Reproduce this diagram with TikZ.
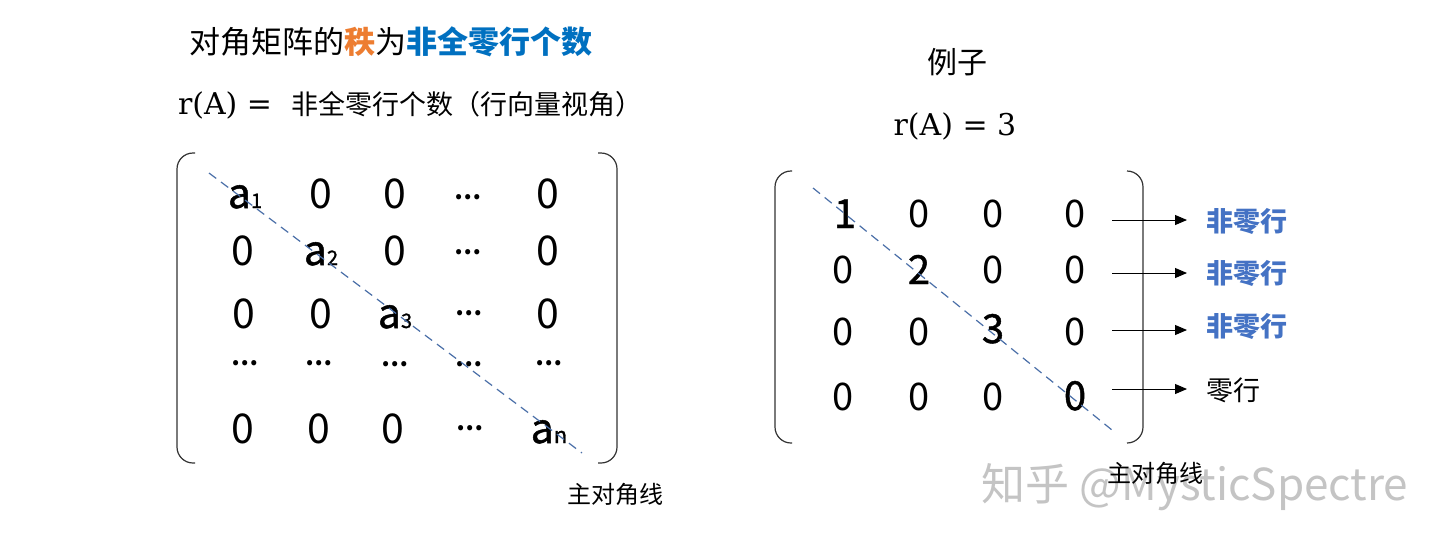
\documentclass[tikz,border=0pt]{standalone}
\usepackage{fontspec}
\usetikzlibrary{arrows.meta}
\newfontfamily\cjk{Noto Sans CJK SC}
\newfontfamily\cjkfb{Noto Sans CJK SC}[FakeBold=1.2]
\newfontfamily\serifm{DejaVu Serif}
\definecolor{orng}{HTML}{ED7D31}
\definecolor{tblue}{HTML}{0070C0}
\definecolor{lblue}{HTML}{4472C4}
\definecolor{dblue}{HTML}{4A6FA8}
\definecolor{wmgray}{HTML}{C4C4C4}
\newcommand\fsz[1]{\fontsize{#1}{#1}\selectfont}
\begin{document}
\begin{tikzpicture}[x=1pt,y=-1pt,
  every node/.style={inner sep=0pt,outer sep=0pt},
  lz/.style={anchor=base,font=\cjk\fsz{41}},
  la/.style={anchor=base,font=\cjkfb\fsz{41}},
  ldots/.style={anchor=center,font=\cjk\bfseries\fsz{24}},
  rz/.style={anchor=base,font=\cjk\fsz{38}},
  rd/.style={anchor=base,font=\cjkfb\fsz{40}},
  bracket/.style={draw=black!80,line width=1.2pt,rounded corners=16pt},
  diagline/.style={draw=dblue,line width=1.2pt,dash pattern=on 9pt off 6pt},
  arr/.style={draw=black,line width=1pt,-{Triangle[length=12pt,width=10pt]},shorten >=19pt},
  nzlab/.style={anchor=west,font=\cjk\bfseries\fsz{27},text=lblue},
  zlab/.style={anchor=west,font=\cjk\fsz{27}},
  diaglab/.style={anchor=center,font=\cjk\fsz{24}}
]
\useasboundingbox[fill=white] (0,0) rectangle (1440,550);
% titles
\node[anchor=west,font=\cjk\fsz{31}] (title) at (189,42)
  {对角矩阵的{\bfseries\color{orng}秩}为{\bfseries\color{tblue}非全零行个数}};
\node[anchor=west,font=\serifm\fsz{30}] (rA) at (178,105) {r(A) =};
\node[anchor=west,font=\cjk\fsz{27}] (def) at (291,104) {非全零行个数（行向量视角）};
\node[anchor=center,font=\cjk\fsz{30}] (ex) at (957,62) {例子};
\node[anchor=center,font=\serifm\fsz{30}] (rA3) at (955,126) {r(A) = 3};

% left matrix brackets
\draw[bracket] (195,153) -- (177,153) -- (177,463) -- (195,463);
\draw[bracket] (598,153) -- (617,153) -- (617,463) -- (598,463);
% left matrix entries
\node[la] (a1) at (245,208) {a{\fsz{20}1}};
\node[lz] (L12) at (321,208) {0};
\node[lz] (L13) at (395,208) {0};
\node[ldots] (L14) at (468,197) {…};
\node[lz] (L15) at (548,208) {0};
\node[lz] (L21) at (243,265) {0};
\node[la] (a2) at (321,265) {a{\fsz{20}2}};
\node[lz] (L23) at (395,265) {0};
\node[ldots] (L24) at (468,252) {…};
\node[lz] (L25) at (548,265) {0};
\node[lz] (L31) at (244,328) {0};
\node[lz] (L32) at (321,328) {0};
\node[la] (a3) at (395,328) {a{\fsz{20}3}};
\node[ldots] (L34) at (469,313) {…};
\node[lz] (L35) at (548,328) {0};
\node[ldots] (L41) at (245,363) {…};
\node[ldots] (L42) at (319,363) {…};
\node[ldots] (L43) at (395,364) {…};
\node[ldots] (L44) at (469,364) {…};
\node[ldots] (L45) at (549,363) {…};
\node[lz] (L51) at (243,443) {0};
\node[lz] (L52) at (319,443) {0};
\node[lz] (L53) at (393,443) {0};
\node[ldots] (L54) at (470,428) {…};
\node[la] (an) at (549,443) {a{\fsz{22}n}};
\coordinate (ldA) at (209,173);
\coordinate (ldB) at (582,453);
\draw[diagline] (ldA) -- (ldB);
\node[diaglab] (ldl) at (615,494) {主对角线};

% right matrix brackets
\draw[bracket] (792,171) -- (775,171) -- (775,443) -- (792,443);
\draw[bracket] (1127,171) -- (1143,171) -- (1143,443) -- (1127,443);
% right matrix entries
\node[rd] (R11) at (845,228) {1};
\node[rz] (R12) at (919,227) {0};
\node[rz] (R13) at (993,227) {0};
\node[rz] (R14) at (1075,227) {0};
\node[rz] (R21) at (843,283) {0};
\node[rd] (R22) at (919,284) {2};
\node[rz] (R23) at (993,283) {0};
\node[rz] (R24) at (1075,283) {0};
\node[rz] (R31) at (843,345) {0};
\node[rz] (R32) at (919,345) {0};
\node[rd] (R33) at (993,343) {3};
\node[rz] (R34) at (1075,345) {0};
\node[rz] (R41) at (843,410) {0};
\node[rz] (R42) at (919,410) {0};
\node[rz] (R43) at (993,410) {0};
\node[rd] (R44) at (1075,410) {0};
\coordinate (rdA) at (813,188);
\coordinate (rdB) at (1112,430);
\draw[diagline] (rdA) -- (rdB);

% row labels and arrows
\node[nzlab] (t1) at (1206,221) {非零行};
\node[nzlab] (t2) at (1206,273) {非零行};
\node[nzlab] (t3) at (1206,326) {非零行};
\node[zlab] (t4) at (1206,390) {零行};
\coordinate (s1) at (1112,220);
\coordinate (s2) at (1112,273);
\coordinate (s3) at (1112,330);
\coordinate (s4) at (1112,389);
\draw[arr] (s1) -- (s1 -| t1.west);
\draw[arr] (s2) -- (s2 -| t2.west);
\draw[arr] (s3) -- (s3 -| t3.west);
\draw[arr] (s4) -- (s4 -| t4.west);

% watermark and right diagonal label
\node[anchor=center,font=\cjk\fsz{44},text=wmgray] (wm) at (1195,487) {知乎 @MysticSpectre};
\node[diaglab] (rdl) at (1155,473) {主对角线};
\end{tikzpicture}
\end{document}
